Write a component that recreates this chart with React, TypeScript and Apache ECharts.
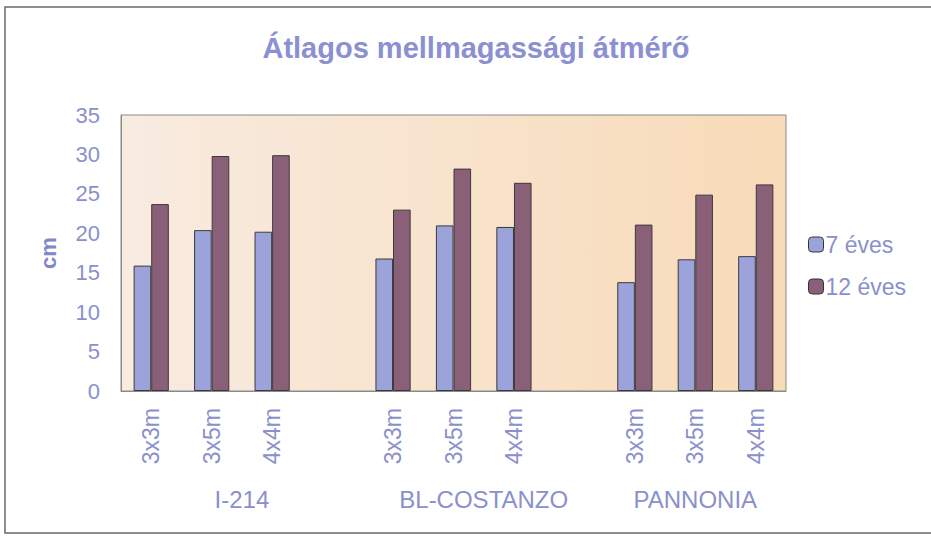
import React, { useEffect, useRef } from "react";
import * as echarts from "echarts";

const groups = ["I-214", "BL-COSTANZO", "PANNONIA"];
const spacings = ["3x3m", "3x5m", "4x4m"];
const values7: number[][] = [
  [15.9, 20.4, 20.2],
  [16.8, 21.0, 20.8],
  [13.8, 16.7, 17.1],
];
const values12: number[][] = [
  [23.7, 29.8, 29.9],
  [23.0, 28.2, 26.4],
  [21.1, 24.9, 26.2],
];
const yTicks = [0, 5, 10, 15, 20, 25, 30, 35];
const seriesNames = ["7 éves", "12 éves"];
const titleText = "Átlagos mellmagassági átmérő";
const yName = "cm";

const FONT = "'Liberation Sans', Arial, sans-serif";
const LABEL_COLOR = "#8a90cc";

export default function App() {
  const ref = useRef<HTMLDivElement>(null);
  useEffect(() => {
    document.body.style.margin = "0";
    if (!ref.current) return;
    const chart = echarts.init(ref.current, undefined, { renderer: "svg" });

    const cats: string[] = [];
    const d7: (number | null)[] = [];
    const d12: (number | null)[] = [];
    const groupCenters: { pos: number; name: string }[] = [];
    groups.forEach((g, gi) => {
      const start = cats.length;
      spacings.forEach((s, si) => {
        cats.push(s);
        d7.push(values7[gi][si]);
        d12.push(values12[gi][si]);
      });
      if (gi < groups.length - 1) {
        cats.push("");
        d7.push(null);
        d12.push(null);
      }
      groupCenters.push({ pos: (start + cats.length) / 2, name: g });
    });
    const nSlots = cats.length;

    chart.setOption({
      animation: false,
      backgroundColor: "#ffffff",
      title: {
        text: titleText,
        left: 471,
        top: 28,
        textAlign: "center",
        textStyle: {
          fontFamily: FONT,
          fontSize: 29,
          fontWeight: "bold",
          color: "#8a90d2",
        },
      },
      legend: {
        orient: "vertical",
        left: 803,
        top: 228,
        itemWidth: 15,
        itemHeight: 15,
        itemGap: 19,
        data: seriesNames,
        textStyle: { fontFamily: FONT, fontSize: 23, color: LABEL_COLOR, padding: [0, 0, 0, -3] },
        itemStyle: { borderColor: "#333", borderWidth: 1 },
      },
      grid: {
        left: 121,
        top: 115,
        right: 145,
        bottom: 150,
        show: true,
        borderColor: "#8a8a8a",
        borderWidth: 1,
        backgroundColor: {
          type: "linear",
          x: 0,
          y: 0,
          x2: 1,
          y2: 0,
          colorStops: [
            { offset: 0, color: "#f8ebe0" },
            { offset: 1, color: "#f8dbb8" },
          ],
        },
      },
      xAxis: [
        {
          type: "category",
          data: cats,
          axisLine: { show: true, lineStyle: { color: "#8a8a8a" } },
          axisTick: { show: false },
          axisLabel: {
            rotate: 90,
            margin: 17,
            interval: 0,
            fontFamily: FONT,
            fontSize: 23,
            color: LABEL_COLOR,
          },
        },
        {
          type: "value",
          position: "bottom",
          min: 0,
          max: nSlots,
          interval: 0.5,
          axisLine: { show: false },
          axisTick: { show: false },
          splitLine: { show: false },
          axisLabel: {
            margin: 96,
            fontFamily: FONT,
            fontSize: 24,
            color: LABEL_COLOR,
            showMinLabel: true,
            showMaxLabel: true,
            formatter: (v: number) => {
              const g = groupCenters.find((c) => Math.abs(c.pos - v) < 1e-6);
              return g ? g.name : "";
            },
          },
        },
      ],
      yAxis: {
        type: "value",
        min: yTicks[0],
        max: yTicks[yTicks.length - 1],
        interval: 5,
        name: yName,
        nameLocation: "middle",
        nameRotate: 90,
        nameGap: 62,
        nameTextStyle: {
          fontFamily: FONT,
          fontSize: 22,
          fontWeight: "bold",
          color: "#8088c8",
        },
        axisLine: { show: true, lineStyle: { color: "#8a8a8a" } },
        axisTick: { show: false },
        splitLine: { show: false },
        axisLabel: {
          margin: 21,
          fontFamily: FONT,
          fontSize: 22,
          color: LABEL_COLOR,
        },
      },
      series: [
        {
          name: seriesNames[0],
          type: "bar",
          xAxisIndex: 0,
          data: d7,
          barWidth: 17.6,
          barGap: "0%",
          itemStyle: { color: "#9ca3da", borderColor: "#3a3a3a", borderWidth: 1 },
        },
        {
          name: seriesNames[1],
          type: "bar",
          xAxisIndex: 0,
          data: d12,
          barWidth: 17.6,
          barGap: "0%",
          itemStyle: { color: "#8a5f78", borderColor: "#3a3a3a", borderWidth: 1 },
        },
      ],
      graphic: [
        {
          type: "rect",
          shape: { x: 5, y: 7, width: 940, height: 526 },
          style: { fill: "none", stroke: "#6a6a6a", lineWidth: 1.5 },
          silent: true,
          z: -1,
        },
      ],
    });
    return () => chart.dispose();
  }, []);
  return <div ref={ref} style={{ width: 931, height: 541 }} />;
}
